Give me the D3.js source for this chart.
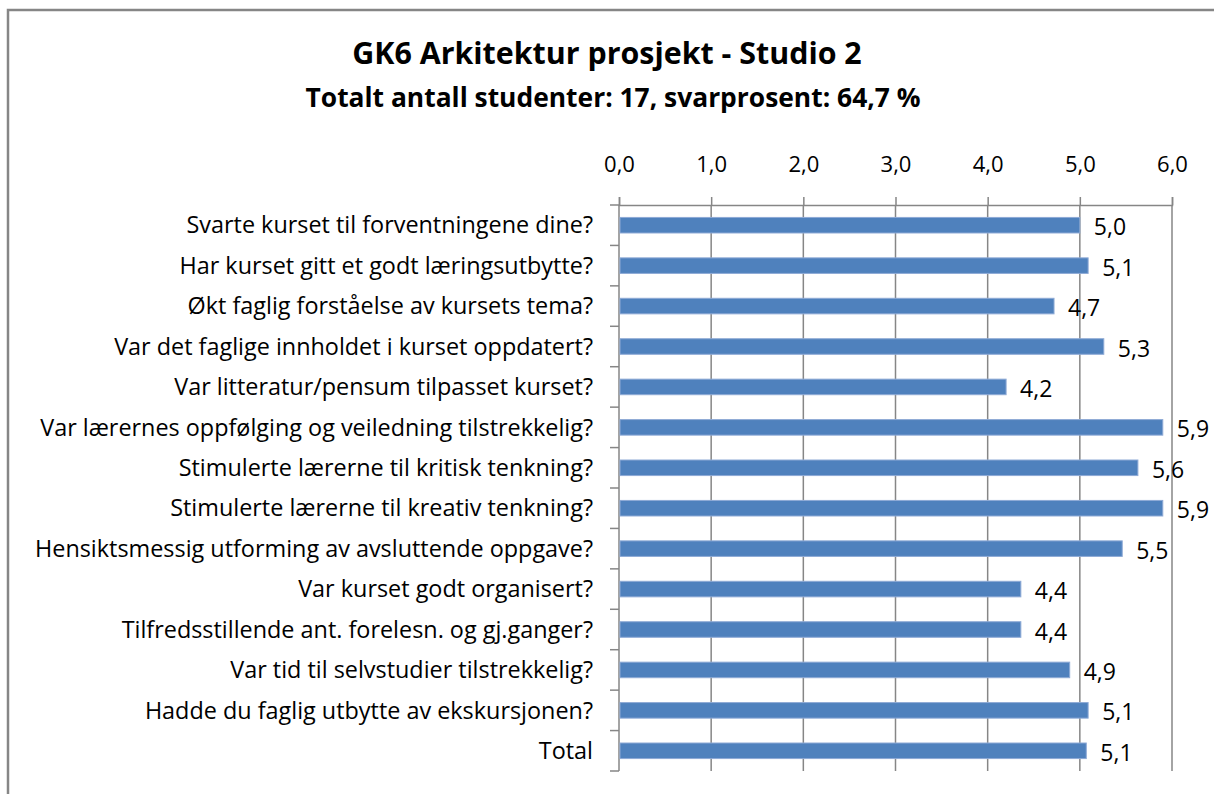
<!DOCTYPE html>
<html>
<head>
  <meta charset="utf-8">
  <title>GK6 Arkitektur prosjekt - Studio 2</title>
  <script src="https://cdn.jsdelivr.net/npm/d3@7"></script>
  <style>
    body { margin: 0; background: #fff; }
    text { font-family: "Open Sans", sans-serif; fill: #000; }
  </style>
</head>
<body>
  <svg width="1214" height="794" id="mainsvg"></svg>
  <script>
    // data
    const questions = [
      'Svarte kurset til forventningene dine?',
      'Har kurset gitt et godt læringsutbytte?',
      'Økt faglig forståelse av kursets tema?',
      'Var det faglige innholdet i kurset oppdatert?',
      'Var litteratur/pensum tilpasset kurset?',
      'Var lærernes oppfølging og veiledning tilstrekkelig?',
      'Stimulerte lærerne til kritisk tenkning?',
      'Stimulerte lærerne til kreativ tenkning?',
      'Hensiktsmessig utforming av avsluttende oppgave?',
      'Var kurset godt organisert?',
      'Tilfredsstillende ant. forelesn. og gj.ganger?',
      'Var tid til selvstudier tilstrekkelig?',
      'Hadde du faglig utbytte av ekskursjonen?',
      'Total'
    ];
    const scores = [5.0, 5.09, 4.72, 5.26, 4.2, 5.9, 5.63, 5.9, 5.46, 4.36, 4.36, 4.89, 5.09, 5.07];
    const xTicks = [0, 1, 2, 3, 4, 5, 6];
    const title = 'GK6 Arkitektur prosjekt - Studio 2';
    const subtitle = 'Totalt antall studenter: 17, svarprosent: 64,7 %';

    const svg = d3.select('svg');
    const grey = '#868686';
    const fmt = v => d3.format('.1f')(v).replace('.', ',');

    // outer chart frame
    svg.append('path')
      .attr('d', 'M8,800 L8,10 L1220,10')
      .attr('fill', 'none')
      .attr('stroke', grey)
      .attr('stroke-width', 2.5);

    svg.append('text')
      .attr('x', 607).attr('y', 64)
      .attr('text-anchor', 'middle')
      .style('font-size', '30.4px').style('font-weight', 'bold')
      .text(title);
    svg.append('text')
      .attr('x', 613).attr('y', 107)
      .attr('text-anchor', 'middle')
      .style('font-size', '26.4px').style('font-weight', 'bold')
      .text(subtitle);

    const x = d3.scaleLinear().domain([0, 6]).range([619, 1172]);
    const y = d3.scaleBand().domain(questions).range([205, 771])
      .paddingInner(0.615).paddingOuter(0.3075);

    // vertical gridlines
    svg.append('g').selectAll('line').data(xTicks.slice(1)).join('line')
      .attr('x1', d => x(d)).attr('x2', d => x(d))
      .attr('y1', 205).attr('y2', 771)
      .attr('stroke', grey).attr('stroke-width', 1.5);

    // top value axis
    const xAxis = svg.append('g').attr('transform', 'translate(0,205)')
      .call(d3.axisTop(x).tickValues(xTicks).tickSize(8).tickFormat(fmt));
    xAxis.select('.domain').attr('stroke', grey).attr('stroke-width', 1.5);
    xAxis.selectAll('.tick line').attr('stroke', grey).attr('stroke-width', 1.5);
    xAxis.selectAll('.tick text').attr('y', -33).attr('dy', 0)
      .style('font-size', '22px').style('font-family', '"Open Sans", sans-serif');

    // left category axis, ticks between categories
    const bounds = d3.range(questions.length + 1).map(i => y.range()[0] + i * y.step());
    svg.append('g').selectAll('line').data(bounds).join('line')
      .attr('x1', 610).attr('x2', x(0))
      .attr('y1', d => d).attr('y2', d => d)
      .attr('stroke', grey).attr('stroke-width', 1.5);
    svg.append('line')
      .attr('x1', x(0)).attr('x2', x(0)).attr('y1', 205).attr('y2', 771)
      .attr('stroke', grey).attr('stroke-width', 1.5);

    svg.append('g').selectAll('text').data(questions).join('text')
      .attr('x', 593)
      .attr('y', d => y(d) + y.bandwidth() / 2)
      .attr('dy', '0.35em')
      .attr('text-anchor', 'end')
      .style('font-size', '23.4px')
      .text(d => d);

    // bars
    svg.append('g').selectAll('rect').data(scores).join('rect')
      .attr('x', x(0) + 1)
      .attr('y', (d, i) => y(questions[i]))
      .attr('width', d => x(d) - x(0) - 1)
      .attr('height', y.bandwidth())
      .attr('fill', '#4f81bd')
      .attr('stroke', '#8eaad6')
      .attr('stroke-width', 1);

    // value labels
    svg.append('g').selectAll('text').data(scores).join('text')
      .attr('x', d => x(d) + 14)
      .attr('y', (d, i) => y(questions[i]) + y.bandwidth() / 2 + 2)
      .attr('dy', '0.35em')
      .style('font-size', '23px')
      .text(d => fmt(d));
  </script>
</body>
</html>
